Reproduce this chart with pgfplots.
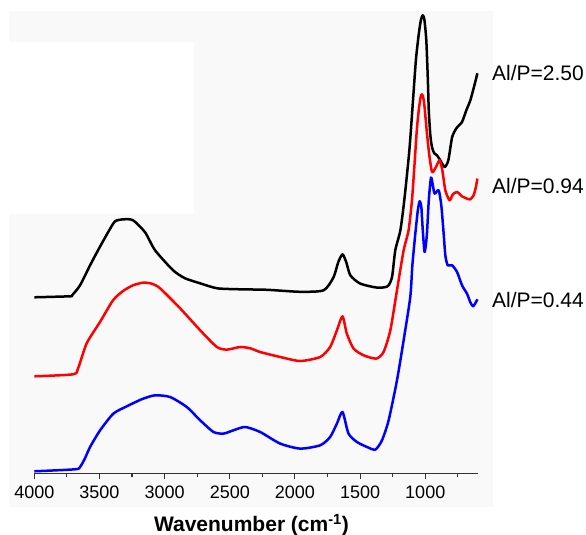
\documentclass[border=0pt]{standalone}
\usepackage{fontspec}
\setmainfont{Liberation Sans}
\usepackage{pgfplots}
\pgfplotsset{compat=1.18}
\definecolor{panel}{RGB}{249,249,249}
\definecolor{axisgray}{RGB}{50,50,50}

\begin{document}
\begin{tikzpicture}
\useasboundingbox (0,0) rectangle (586pt,535pt);
% backdrop panels
\fill[panel] (9pt,28pt) rectangle (493pt,524pt);
\fill[white] (9pt,321pt) rectangle (194pt,493pt);

\begin{axis}[
  at={(34.3pt,61.7pt)}, anchor=south west,
  scale only axis, width=444pt, height=462pt,
  x dir=reverse, xmin=593, xmax=4000, ymin=0, ymax=462,
  axis x line=bottom, hide y axis,
  x axis line style={-, axisgray, line width=1.2pt},
  xtick={1000,1500,...,4000},
  minor xtick={750,1250,...,3750},
  tick align=outside,
  major tick length=6pt, minor tick length=4pt,
  every tick/.style={axisgray, line width=1.1pt},
  xticklabel style={font=\fontsize{18}{20}\selectfont, yshift=-3pt},
  /pgf/number format/assume math mode=true,
  /pgf/number format/1000 sep={},
  clip=false,
  every axis plot/.append style={line width=2.5pt, line join=round},
]
% Al/P = 2.50
\addplot[black, smooth, tension=0.4] coordinates {
(4000,176) (3726,177) (3710,178) (3649,188) (3572,208) (3511,223) (3434,241)
(3380,252) (3311,254) (3242,253) (3150,241) (3073,223) (2935,203) (2843,195)
(2728,190) (2597,185) (2420,184) (2213,183.5) (1960,181.5) (1780,183) (1704,196)
(1668,211) (1635,219) (1606,211) (1575,198) (1499,189.7) (1370,185.7) (1289,187)
(1255,196.3) (1230,223) (1191,243) (1161,273) (1122,323) (1094,373) (1072,413)
(1051,438) (1034,453) (1020,458) (1007,454) (992,433) (980,393) (973,363)
(961,338) (948,326) (931,320) (910,318) (885,313) (851,306.3) (823,313)
(794,336) (761,345) (718,351.3) (685,363) (654,373) (623,388) (600,400)
};
% Al/P = 0.94
\addplot[red, smooth, tension=0.4] coordinates {
(4000,97) (3703,99) (3664,105) (3598,130) (3496,151.3) (3396,173) (3319,182.3)
(3242,188) (3163,190.7) (3096,189.5) (3035,185) (2881,165) (2727,143) (2599,126.3)
(2522,123.7) (2420,126.3) (2343,125) (2267,121.3) (2113,116.3) (1960,112.3)
(1806,116.3) (1730,126.3) (1678,143) (1635,157) (1602,139.7) (1550,124.7)
(1473,118) (1376,114.7) (1320,121.3) (1268,143) (1217,183) (1166,223) (1128,243)
(1102,273) (1084,306) (1065,343) (1050,363) (1036,376) (1025,379) (1011,373)
(996,353) (987,340) (969,318) (948,301.3) (923,305) (890,313) (869,303)
(846,283) (813,273) (788,279) (756,281.3) (718,277) (680,274.7) (654,274)
(629,278) (612,286) (600,294.7)
};
% Al/P = 0.44
\addplot[blue, smooth, tension=0.4] coordinates {
(4000,2) (3687,4) (3649,6.3) (3611,15) (3572,26.3) (3495,43) (3393,59.7)
(3290,67) (3227,71) (3163,74.7) (3073,78) (2958,76.3) (2830,66.3) (2727,53)
(2625,41.3) (2548,39.7) (2472,43) (2382,46.3) (2267,41.3) (2113,29.7) (1960,24.7)
(1806,28) (1730,36.3) (1678,49.7) (1635,61.3) (1589,39.7) (1524,31.3) (1447,26.3)
(1383,23.7) (1332,33) (1281,53) (1217,93) (1166,133) (1115,176.3) (1099,208)
(1076,240) (1057,263) (1043,272) (1030,266) (1019,243) (1005,221.3) (988,238)
(973,273) (956,295.7) (942,288) (928,279.7) (897,283) (877,268) (859,240)
(846,218) (828,208) (794,208) (756,201.3) (718,188) (680,179.7) (654,171)
(633,167) (612,171) (600,174)
};
\end{axis}

% series labels
\begin{scope}[every node/.style={anchor=base west, inner sep=0pt, font=\fontsize{21}{24}\selectfont}]
\node at (492pt,454pt) {Al/P=2.50};
\node at (492pt,341.7pt) {Al/P=0.94};
\node at (492pt,227.7pt) {Al/P=0.44};
\end{scope}
\node[anchor=base, inner sep=0pt, font=\fontsize{21}{24}\selectfont\bfseries] at (251.5pt,3.3pt) {Wavenumber (cm\textsuperscript{-1})};
\end{tikzpicture}
\end{document}
